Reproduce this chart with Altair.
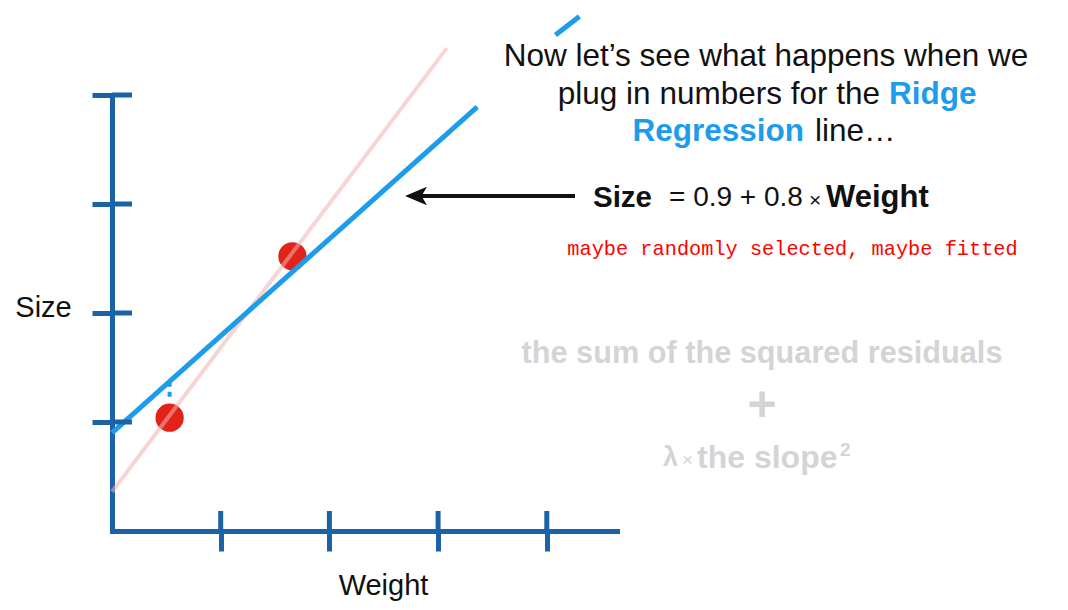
import altair as alt
import pandas as pd

# ---------------- data ----------------
weight_pts = [0.53, 1.66]
size_pts = [1.04, 2.52]

ridge_seg = ["low", "low", "high", "high"]
ridge_x = [0.0, 3.36, 4.08, 4.30]
ridge_y = [0.90, 3.89, 4.55, 4.72]

ols_x = [0.0, 3.08]
ols_y = [0.36, 4.43]

resid_x = [0.53, 0.53]
resid_y = [1.37, 1.19]

tick_vals = [1, 2, 3, 4]

title_l1 = "Now let\u2019s see what happens when we"
title_l2a = "plug in numbers for the"
title_l2b = "Ridge"
title_l3a = "Regression"
title_l3b = "line\u2026"
eq_parts = ["Size", "= 0.9 + 0.8", "\u00d7", "Weight"]
note_text = "maybe randomly selected, maybe fitted"
gray_l1 = "the sum of the squared residuals"
gray_plus = "+"
gray_l3 = ["\u03bb", "\u00d7", "the slope", "2"]

# ---------------- layout ----------------
W, H = 505, 436
OX, OY = 112, 95          # page position of the plot origin (top-left)


def px(x):
    return x - OX


def py(y):
    return y - OY


AXIS_BLUE = "#1b62a6"
RIDGE_BLUE = "#1c9cea"
PINK = "#f2b3b3"
RED = "#e2231a"
GRAY = "#d4d4d4"
BLACK = "#111111"
FONT = "Liberation Sans"

xs = alt.Scale(domain=[0, 4.646], nice=False, zero=False)
ys = alt.Scale(domain=[0, 4.0], nice=False, zero=False)

common_axis = dict(values=tick_vals, labels=False, grid=False,
                   domainColor=AXIS_BLUE, domainWidth=5, domainCap="square",
                   tickColor=AXIS_BLUE, tickWidth=5, tickSize=20,
                   titleFont=FONT, titleFontSize=29, titleFontWeight="normal",
                   titleColor=BLACK, titleAlign="center", titleBaseline="middle")
xaxis = alt.Axis(title="Weight", titleX=271, titleY=54, **common_axis)
yaxis = alt.Axis(title="Size", titleAngle=0, titleX=-69, titleY=212, **common_axis)


def X(f):
    return alt.X(f, type="quantitative", scale=xs, axis=xaxis)


def Y(f):
    return alt.Y(f, type="quantitative", scale=ys, axis=yaxis)


pts_df = pd.DataFrame({"w": weight_pts, "s": size_pts})
ridge_df = pd.DataFrame({"w": ridge_x, "s": ridge_y, "seg": ridge_seg})
ols_df = pd.DataFrame({"w": ols_x, "s": ols_y})
resid_df = pd.DataFrame({"w": resid_x, "s": resid_y})
ticks_df = pd.DataFrame({"v": tick_vals})

points = alt.Chart(pts_df).mark_circle(size=800, color=RED, opacity=1).encode(
    x=X("w"), y=Y("s"))

ols = alt.Chart(ols_df).mark_line(color=PINK, strokeWidth=4, opacity=0.55).encode(
    x=X("w"), y=Y("s"))

ridge = alt.Chart(ridge_df).mark_line(color=RIDGE_BLUE, strokeWidth=5).encode(
    x=X("w"), y=Y("s"), detail="seg:N")

resid = alt.Chart(resid_df).mark_line(color=RIDGE_BLUE, strokeWidth=4,
                                      strokeDash=[5, 5]).encode(
    x=X("w"), y=Y("s"))

xticks_in = alt.Chart(ticks_df).mark_rule(color=AXIS_BLUE, strokeWidth=5).encode(
    x=X("v"), y=alt.value(H - 20), y2=alt.value(H))
yticks_in = alt.Chart(ticks_df).mark_rule(color=AXIS_BLUE, strokeWidth=5).encode(
    y=Y("v"), x=alt.value(0), x2=alt.value(20))


def txt(s, x, y, size=29, weight="normal", color=BLACK, align="center",
        font=FONT):
    return alt.Chart(pd.DataFrame({"t": [s]})).mark_text(
        font=font, fontSize=size, fontWeight=weight, color=color,
        align=align, baseline="middle").encode(
        text="t:N", x=alt.value(px(x)), y=alt.value(py(y)))


texts = [
    txt(title_l1, 766, 57, size=31.5),
    txt(title_l2a, 880, 95, size=31.5, align="right"),
    txt(title_l2b, 889, 95, size=31.5, weight="bold", color=RIDGE_BLUE, align="left"),
    txt(title_l3a, 804, 132, size=31.5, weight="bold", color=RIDGE_BLUE, align="right"),
    txt(title_l3b, 815, 132, size=31.5, align="left"),
    txt(eq_parts[0], 593, 198, size=29.5, weight="bold", align="left"),
    txt(eq_parts[1], 669, 198, size=28, align="left"),
    txt(eq_parts[2], 809, 201, size=21, align="left"),
    txt(eq_parts[3], 826, 198, size=31, weight="bold", align="left"),
    txt(note_text, 792.5, 249, size=20.3, color="#ff0000", font="Liberation Mono"),
    txt(gray_l1, 762, 354, size=30.7, weight="bold", color=GRAY),
    txt(gray_plus, 762, 406, size=50, weight="bold", color=GRAY),
    txt(gray_l3[0], 663, 458, size=27, weight="bold", color=GRAY, align="left"),
    txt(gray_l3[1], 682, 460, size=19, color=GRAY, align="left"),
    txt(gray_l3[2], 697, 458, size=32, weight="bold", color=GRAY, align="left"),
    txt(gray_l3[3], 840, 450, size=19, weight="bold", color=GRAY, align="left"),
]

arrow_line = alt.Chart(pd.DataFrame({"a": [0]})).mark_rule(
    color=BLACK, strokeWidth=4).encode(
    x=alt.value(px(575)), x2=alt.value(px(420)), y=alt.value(py(196)))
arrow_head = alt.Chart(pd.DataFrame({"a": [0]})).mark_point(
    shape="M -1 0 L 1 -0.85 L 0.5 0 L 1 0.85 Z", filled=True, color=BLACK,
    opacity=1, size=484, strokeWidth=0).encode(
    x=alt.value(px(416)), y=alt.value(py(196)))

chart = alt.layer(
    points, ols, ridge, resid, xticks_in, yticks_in, arrow_line, arrow_head,
    *texts
).properties(
    width=W, height=H,
    autosize=alt.AutoSizeParams(type="none"),
    padding={"left": OX - 8, "top": OY - 8, "right": 1052 - (OX - 8) - W,
             "bottom": 594 - (OY - 8) - H},
    background="white",
).configure_view(stroke=None)

chart.save("out.html", embed_options={"renderer": "svg", "actions": False})
